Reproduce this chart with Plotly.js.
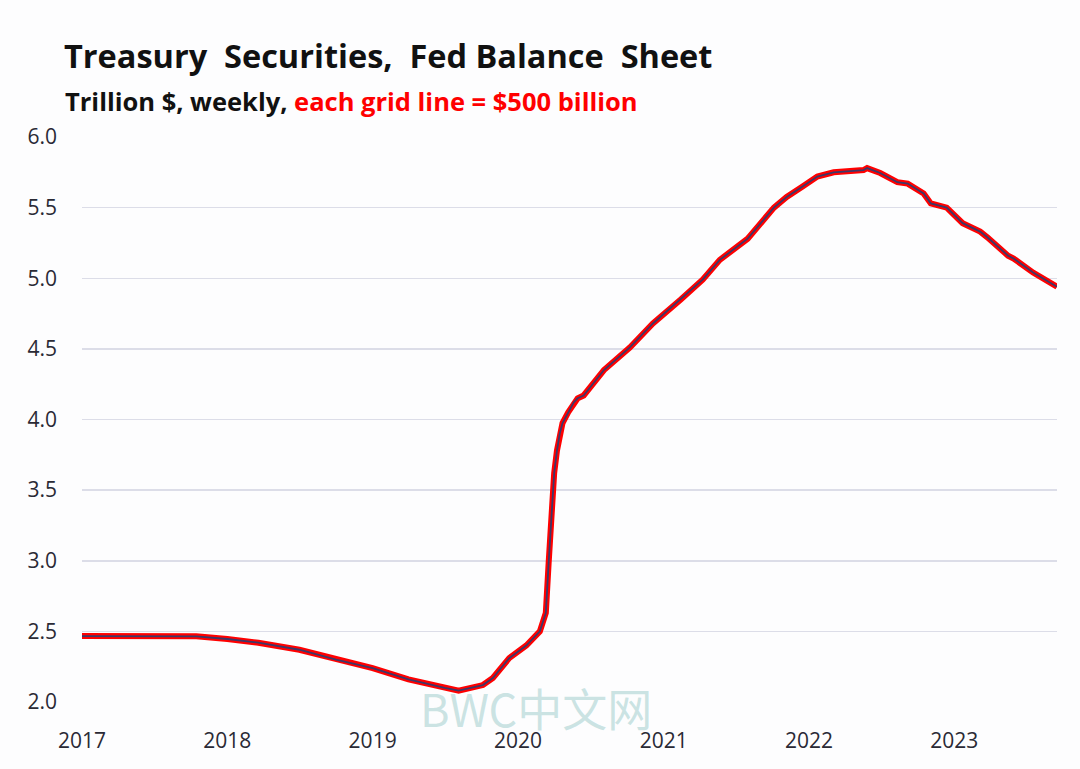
<!DOCTYPE html>
<html>
<head>
<meta charset="utf-8">
<script src="https://cdn.plot.ly/plotly-3.0.1.min.js"></script>
<style>
  html, body { margin: 0; padding: 0; background: #fdfdfe; }
  #chart { width: 1080px; height: 769px; }
</style>
</head>
<body>
<div id="chart"></div>
<script>
const dates = [
  "2017-01-01","2017-04-01","2017-07-01","2017-10-15","2018-01-01","2018-03-20",
  "2018-07-01","2018-10-01","2019-01-01","2019-04-01","2019-07-01","2019-08-05",
  "2019-10-05","2019-10-30","2019-12-10","2020-01-22","2020-02-25","2020-03-11",
  "2020-03-18","2020-03-25","2020-04-01","2020-04-08","2020-04-15","2020-04-22",
  "2020-05-06","2020-05-20","2020-05-30","2020-06-14","2020-08-04","2020-10-08",
  "2020-12-05","2021-02-13","2021-04-09","2021-05-22","2021-07-31","2021-10-05",
  "2021-11-06","2021-12-16","2022-01-22","2022-03-04","2022-05-18","2022-05-27",
  "2022-06-29","2022-08-11","2022-09-06","2022-10-16","2022-11-03","2022-12-13",
  "2023-01-22","2023-03-07","2023-03-25","2023-05-16","2023-05-30","2023-07-18",
  "2023-08-11","2023-09-16"
];
const treasuries = [
  2.467,2.467,2.467,2.465,2.446,2.42,
  2.37,2.30,2.24,2.16,2.10,2.08,
  2.12,2.17,2.31,2.40,2.50,2.63,
  2.98,3.34,3.62,3.78,3.90,3.975,
  4.05,4.12,4.15,4.17,4.35,4.51,
  4.68,4.85,4.99,5.13,5.28,5.50,
  5.575,5.65,5.72,5.75,5.766,5.78,
  5.745,5.68,5.67,5.60,5.53,5.50,
  5.39,5.33,5.29,5.16,5.14,5.04,
  5.00,4.94
];
const yTicks = [2.0,2.5,3.0,3.5,4.0,4.5,5.0,5.5,6.0];
const titleText = "Treasury&nbsp; Securities,&nbsp; Fed Balance&nbsp; Sheet";
const subtitleBlack = "Trillion $, weekly, ";
const subtitleRed = "each grid line = $500 billion";
const watermark = "BWC中文网";

const traces = [
  {x: dates, y: treasuries, type: "scatter", mode: "lines",
   line: {color: "#ff0000", width: 6, shape: "linear"}, hoverinfo: "skip"},
  {x: dates, y: treasuries, type: "scatter", mode: "lines",
   line: {color: "#3d3868", width: 1.8, shape: "linear"}}
];

const layout = {
  width: 1080, height: 769,
  paper_bgcolor: "#fdfdfe", plot_bgcolor: "#fdfdfe",
  margin: {l: 82, r: 23, t: 137, b: 67},
  showlegend: false,
  font: {family: "Open Sans, sans-serif", color: "#2a2a35"},
  title: {
    text: "<b>" + titleText + "</b>",
    xref: "container", yref: "container",
    x: 64/1080, xanchor: "left", y: 1 - 57/769, yanchor: "middle",
    font: {family: "Open Sans, sans-serif", size: 32.5, color: "#111"}
  },
  xaxis: {
    type: "date",
    range: [dates[0], dates[dates.length - 1]],
    dtick: "M12", tick0: "2017-01-01", tickformat: "%Y",
    showgrid: false, zeroline: false, showline: false,
    ticks: "", ticklabelstandoff: 24,
    tickfont: {size: 21, color: "#2a2a35"}
  },
  yaxis: {
    range: [2, 6],
    tickvals: yTicks, tickformat: ".1f",
    showgrid: true, gridcolor: "#dcdde8", gridwidth: 1.5,
    zeroline: false, showline: false, ticks: "",
    ticklabelstandoff: 24,
    tickfont: {size: 21, color: "#2a2a35"}
  },
  annotations: [
    {text: "<b>" + subtitleBlack + "<span style='color:#ff0000'>" + subtitleRed + "</span></b>",
     xref: "paper", yref: "paper", x: (63-82)/975, y: (702-101)/565,
     xanchor: "left", yanchor: "middle", showarrow: false,
     font: {family: "Open Sans, sans-serif", size: 25.5, color: "#111"}},
    {text: watermark, xref: "paper", yref: "paper",
     x: (536-82)/975, y: (702-707)/565, xanchor: "center", yanchor: "middle",
     showarrow: false,
     font: {family: "Noto Sans CJK SC, Open Sans, sans-serif", size: 45, color: "rgba(160,205,205,0.55)"}}
  ]
};

Plotly.newPlot("chart", traces, layout, {displayModeBar: false, staticPlot: true});
</script>
</body>
</html>
